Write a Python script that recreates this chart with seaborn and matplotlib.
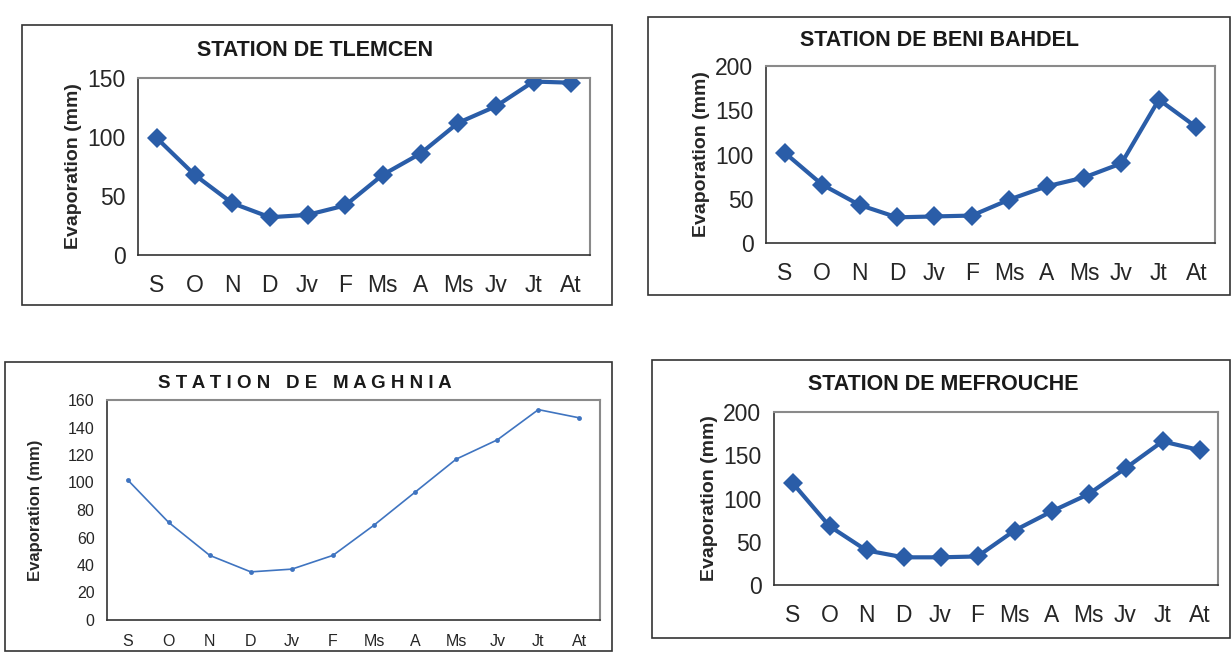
import matplotlib
matplotlib.use("Agg")
import matplotlib.pyplot as plt
from matplotlib.patches import Rectangle
import seaborn as sns
import pandas as pd

months = ["S", "O", "N", "D", "Jv", "F", "Ms", "A", "Ms", "Jv", "Jt", "At"]

tlemcen = [99, 68, 44, 32, 34, 42, 68, 86, 112, 126, 147, 146]
beni_bahdel = [102, 66, 43, 29, 30, 31, 49, 64, 74, 90, 162, 131]
maghnia = [102, 71, 47, 35, 37, 47, 69, 93, 117, 131, 153, 147]
mefrouche = [118, 68, 40, 32, 32, 33, 63, 85, 105, 135, 166, 156]

sns.set_style("white")
plt.rcParams['font.family'] = ['Liberation Sans', 'DejaVu Sans']

W, H = 1232, 652
fig = plt.figure(figsize=(W / 100, H / 100), dpi=100)
fig.patch.set_facecolor("white")


def px_axes(l, t, r, b):
    return fig.add_axes([l / W, 1 - b / H, (r - l) / W, (b - t) / H])


def px_box(l, t, r, b):
    fig.patches.append(Rectangle((l / W, 1 - b / H), (r - l) / W, (b - t) / H,
                                 transform=fig.transFigure, fill=False,
                                 edgecolor="#333333", lw=1.2))


def draw(ax, values, ymax, step, title, title_xy, thin=False):
    df = pd.DataFrame({"x": range(len(values)), "y": values})
    if thin:
        sns.lineplot(x="x", y="y", data=df, ax=ax, color="#3F74C0", lw=1.2,
                     marker="o", markersize=3.5, markeredgewidth=0)
        tick_fs, lab_fs, title_fs, xpad = 11.5, 12, 13.5, 10
    else:
        sns.lineplot(x="x", y="y", data=df, ax=ax, color="#2A5DA8", lw=3,
                     marker="D", markersize=10, markeredgewidth=0)
        tick_fs, lab_fs, title_fs, xpad = 16.5, 14, 15.5, 14
    ax.set_xlim(-0.5, len(values) - 0.5)
    ax.set_ylim(0, ymax)
    ax.set_yticks(range(0, ymax + 1, step))
    ax.set_xticks([i - 0.5 for i in range(len(values) + 1)])
    ax.set_xticklabels([])
    ax.set_xticks(range(len(values)), minor=True)
    ax.set_xticklabels(months, minor=True, fontsize=tick_fs)
    ax.tick_params(axis="x", which="major", length=6, direction="inout",
                   width=1, color="#333333")
    ax.tick_params(axis="x", which="minor", length=0, pad=xpad)
    ax.tick_params(axis="y", length=5, width=1, color="#333333",
                   labelsize=tick_fs, pad=4)
    if thin:
        for lab in ax.get_xticklabels(minor=True) + ax.get_yticklabels():
            lab.set_fontstretch("expanded")
    ax.set_xlabel("")
    ax.set_ylabel("Evaporation (mm)", fontsize=lab_fs, fontweight="bold")
    for side in ["top", "right"]:
        ax.spines[side].set_color("#8a8a8a")
        ax.spines[side].set_linewidth(1.5)
    for side in ["left", "bottom"]:
        ax.spines[side].set_color("#333333")
        ax.spines[side].set_linewidth(1.2)
    fig.text(title_xy[0] / W, 1 - title_xy[1] / H, title, ha="center",
             va="center", fontsize=title_fs, fontweight="bold",
             color="#1a1a1a")


# outer frames
px_box(22, 25, 612, 305)
px_box(648, 17, 1230, 295)
px_box(5, 362, 612, 651)
px_box(652, 360, 1230, 638)

ax1 = px_axes(138, 78, 590, 255)
draw(ax1, tlemcen, 150, 50, "STATION DE TLEMCEN", (315, 50))

ax2 = px_axes(766, 66, 1215, 243)
draw(ax2, beni_bahdel, 200, 50, "STATION DE BENI BAHDEL", (940, 40))

ax3 = px_axes(107, 400, 600, 620)
draw(ax3, maghnia, 160, 20, "S T A T I O N   D E   M A G H N I A", (305, 384),
     thin=True)
ax3.yaxis.set_label_coords(-0.13, 0.5)

ax4 = px_axes(774, 412, 1218, 585)
draw(ax4, mefrouche, 200, 50, "STATION DE MEFROUCHE", (943, 384))

fig.savefig("out.png", dpi=100)
